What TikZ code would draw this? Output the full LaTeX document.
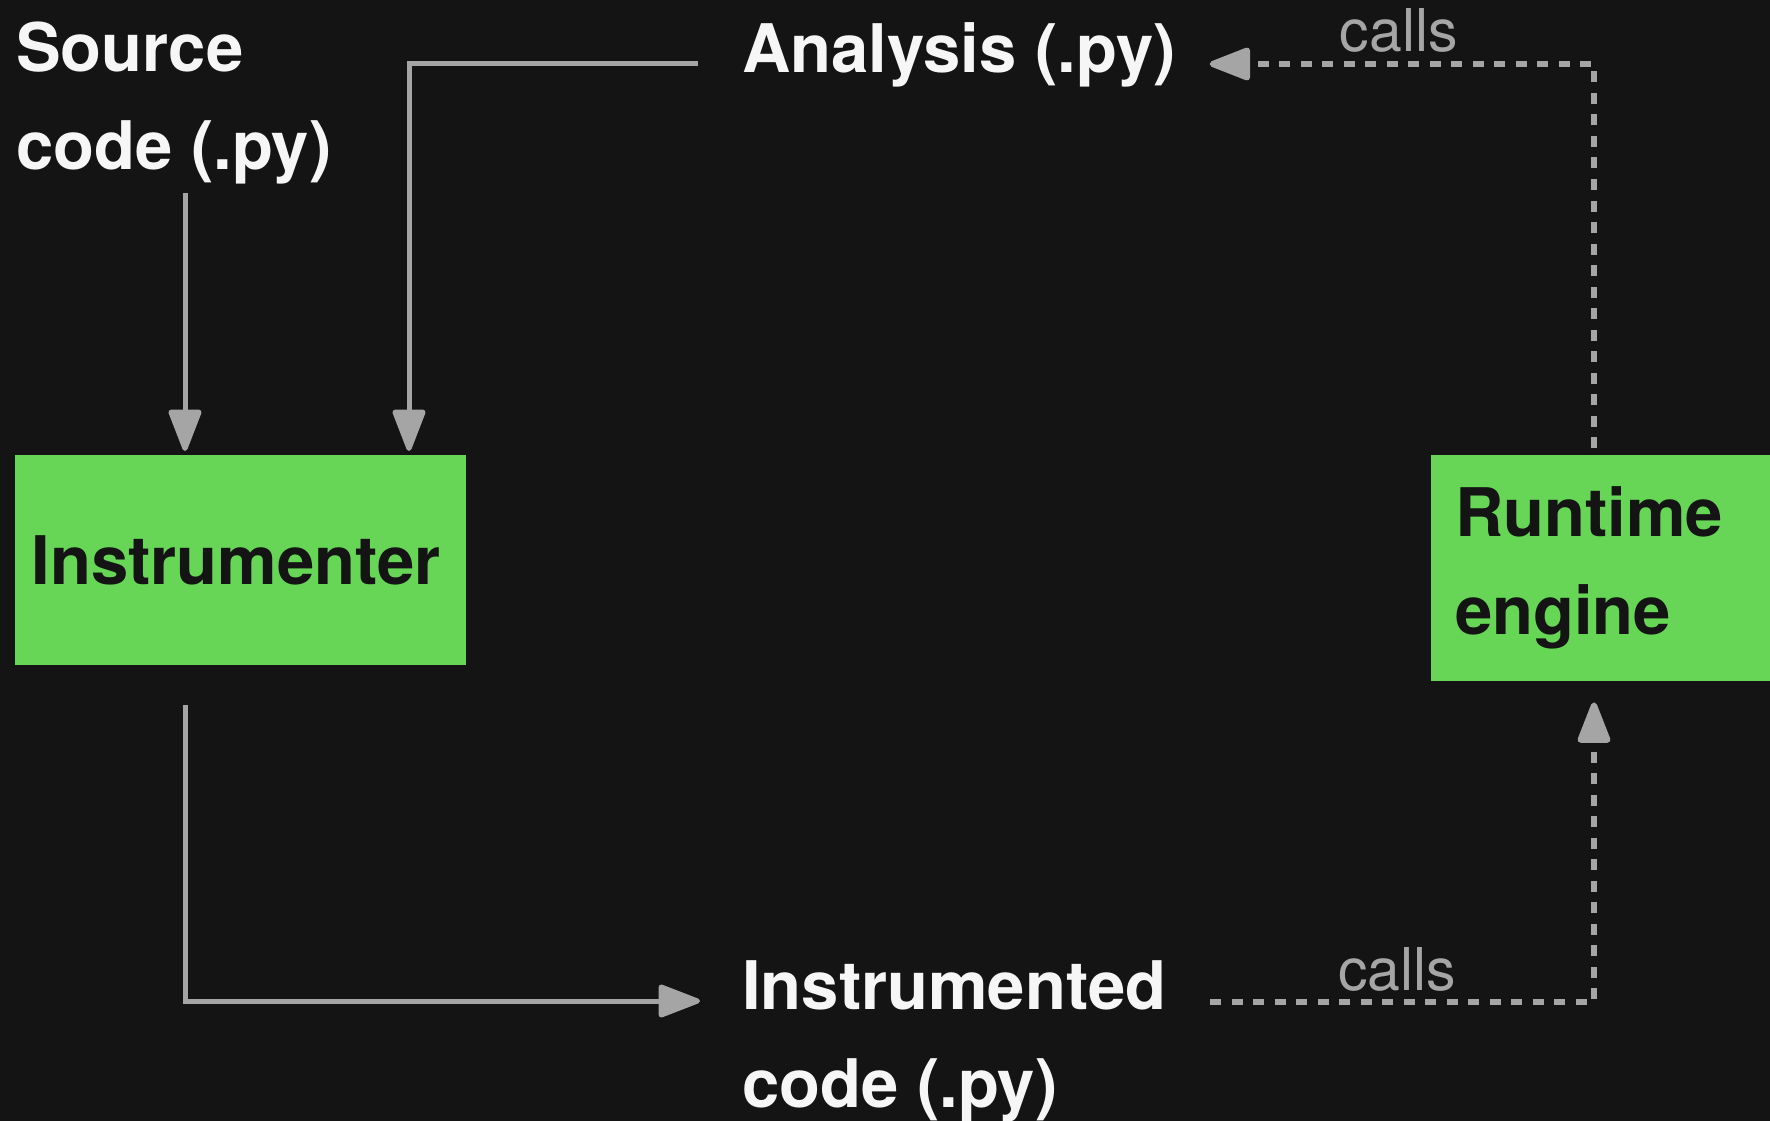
\documentclass[tikz,border=0pt]{standalone}
\usepackage{fontspec}
\setmainfont{TeX Gyre Heros}
\usetikzlibrary{arrows.meta,calc}
\definecolor{bg}{RGB}{20,20,20}
\definecolor{boxgreen}{RGB}{103,214,86}
\definecolor{wire}{RGB}{165,165,165}
\definecolor{ink}{RGB}{246,246,246}
\begin{document}
\begin{tikzpicture}[x=1pt,y=-1pt,
  lbl/.style={font=\fontsize{67}{98}\selectfont\bfseries, text=ink, inner sep=0pt, align=left, anchor=base west},
  box/.style={fill=boxgreen, inner sep=0pt, text=bg, font=\fontsize{67}{98}\selectfont\bfseries, anchor=north west},
  wire/.style={draw=wire, line width=5pt},
  tip/.style={-{Triangle[width=34pt,length=46pt,round]}},
  call/.style={draw=wire, line width=6pt, dash pattern=on 11pt off 10.5pt},
  calltxt/.style={font=\fontsize{59}{59}\selectfont, text=wire, inner sep=0pt, anchor=base, yshift=12pt}
]
% canvas
\fill[bg] (0,0) rectangle (1770,1121);
\useasboundingbox (0,0) rectangle (1770,1121);

% boxes
\node[box, minimum width=451pt, minimum height=210pt] (instr) at (15,455) {\hspace*{-9pt}Instrumenter};
\node[box, minimum width=345pt, minimum height=226pt, text width=297pt, inner xsep=24pt, align=left] (rt) at (1431,455) {Runtime\\engine};

% file labels (anchored on the baseline of their last line)
\node[lbl] (src) at (16,170) {Source\\code (.py)};
\node[lbl] (ana) at (742,73) {Analysis (.py)};
\node[lbl] (instd) at (742,1107) {Instrumented\\code (.py)};

% ports
\coordinate (inA) at ($(instr.north west)+(170,-4)$);
\coordinate (inB) at ($(instr.north west)+(394,-4)$);
\coordinate (outA) at ($(instr.south west)+(170,40)$);
\coordinate (srcOut) at ($(src.base west)+(169,23)$);
\coordinate (anaOut) at ($(ana.base west)+(-44,-9)$);
\coordinate (anaIn) at ($(ana.base east)+(34,-9)$);
\coordinate (instdIn) at ($(instd.base west)+(-42,-106)$);
\coordinate (instdOut) at ($(instd.base west)+(468,-105)$);
\coordinate (rtOut) at ($(rt.north west)+(163,-7)$);
\coordinate (rtIn) at ($(rt.south west)+(163,21)$);

% connectors
\draw[wire,tip] (srcOut) -- (inA);
\draw[wire,tip] (anaOut) -| (inB);
\draw[wire,tip] (outA) |- (instdIn);
\draw[call,tip] (rtOut) |- (anaIn) node[calltxt, pos=0.754] (callsTop) {calls};
\draw[call,tip] (instdOut) -| (rtIn) node[calltxt, pos=0.2435] (callsBot) {calls};
\end{tikzpicture}
\end{document}
